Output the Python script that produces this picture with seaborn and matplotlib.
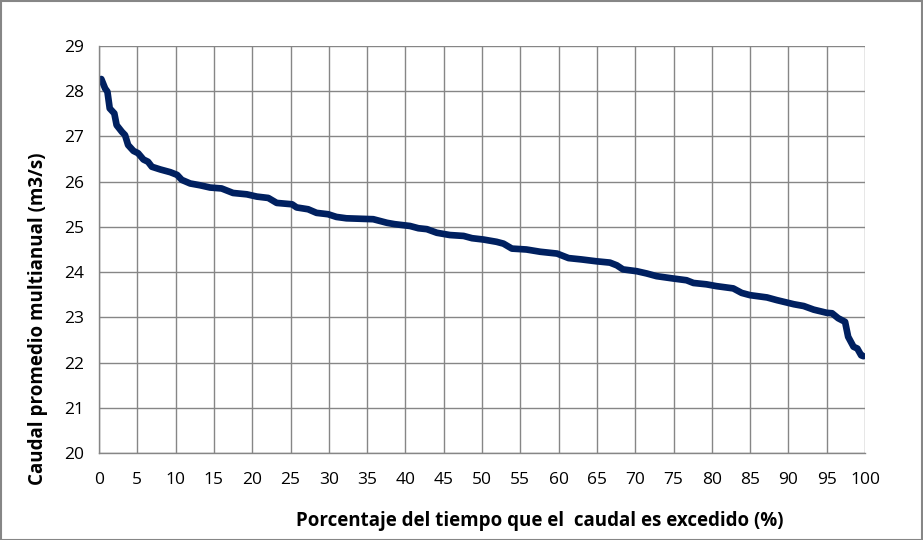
import numpy as np
import pandas as pd
import seaborn as sns
import matplotlib.pyplot as plt
from matplotlib.patches import Rectangle

# Curva de duración de caudales
porcentaje = [0.3, 0.8, 1.1, 1.4, 2.0, 2.3, 3.0, 3.4, 3.8, 4.5, 5.1, 5.8, 6.4, 6.9,
              8.0, 9.3, 10.2, 10.8, 11.9, 13.2, 14.5, 16.0, 17.5, 19.3, 20.6, 22.1,
              23.2, 25.2, 25.8, 27.3, 28.4, 29.9, 31.0, 32.3, 35.8, 37.6, 38.6, 40.6,
              41.7, 42.8, 44.1, 45.8, 47.6, 48.7, 50.2, 51.9, 52.8, 53.9, 55.8, 57.6,
              59.8, 61.3, 63.0, 64.9, 66.7, 67.6, 68.4, 70.2, 71.5, 72.8, 74.9, 76.7,
              77.6, 79.3, 80.6, 82.8, 83.9, 85.0, 87.2, 88.5, 90.7, 92.0, 93.3, 95.0,
              95.7, 96.5, 97.4, 97.8, 98.5, 99.0, 99.5, 99.8]
caudal = [28.27, 28.06, 27.99, 27.62, 27.51, 27.25, 27.10, 27.03, 26.81, 26.68, 26.63,
          26.49, 26.44, 26.33, 26.27, 26.21, 26.15, 26.04, 25.96, 25.92, 25.87, 25.85,
          25.75, 25.72, 25.67, 25.64, 25.53, 25.50, 25.43, 25.39, 25.31, 25.28, 25.22,
          25.19, 25.17, 25.09, 25.06, 25.02, 24.97, 24.95, 24.87, 24.82, 24.80, 24.75,
          24.72, 24.67, 24.63, 24.52, 24.50, 24.45, 24.41, 24.31, 24.28, 24.24, 24.21,
          24.15, 24.06, 24.02, 23.97, 23.91, 23.86, 23.82, 23.76, 23.73, 23.69, 23.64,
          23.54, 23.49, 23.44, 23.38, 23.29, 23.25, 23.17, 23.10, 23.09, 22.98, 22.90,
          22.57, 22.35, 22.31, 22.16, 22.14]

df = pd.DataFrame({"porcentaje": porcentaje, "caudal": caudal})

sns.set_style("white")
plt.rcParams['font.family'] = ['Open Sans', 'DejaVu Sans']
plt.rcParams['text.color'] = 'black'
plt.rcParams['axes.labelcolor'] = 'black'
plt.rcParams['xtick.labelcolor'] = 'black'
plt.rcParams['ytick.labelcolor'] = 'black'

fig = plt.figure(figsize=(9.23, 5.4), dpi=100)
ax = fig.add_axes([99 / 923, 1 - 453 / 540, (865 - 99) / 923, (453 - 46) / 540])

gris = "#868686"
sns.lineplot(data=df, x="porcentaje", y="caudal", ax=ax, color="#002060",
             linewidth=4.8, solid_capstyle="round", solid_joinstyle="round")

ax.set_xlim(0, 100)
ax.set_ylim(20, 29)
ax.set_xticks(np.arange(0, 101, 5))
ax.set_yticks(np.arange(20, 30, 1))
ax.grid(True, color=gris, linewidth=1)
ax.set_axisbelow(True)

for lado in ["top", "right"]:
    ax.spines[lado].set_visible(False)
for lado in ["left", "bottom"]:
    ax.spines[lado].set_color(gris)
    ax.spines[lado].set_linewidth(1)

ax.tick_params(axis="x", direction="out", length=5, color=gris, labelsize=12.5, pad=9)
ax.tick_params(axis="y", direction="out", length=5, color=gris, labelsize=12.5, pad=6)

ax.set_xlabel("Porcentaje del tiempo que el  caudal es excedido (%)", fontsize=13.5,
              fontweight="bold")
ax.set_ylabel("Caudal promedio multianual (m3/s)", fontsize=13.5, fontweight="bold")
ax.xaxis.set_label_coords(0.576, -0.143)
ax.yaxis.set_label_coords(-0.066, 0.33)

# borde del gráfico estilo Excel
fig.patches.append(Rectangle((0.5 / 923, 0.5 / 540), 1 - 1.5 / 923, 1 - 1.5 / 540,
                             transform=fig.transFigure, fill=False,
                             edgecolor=gris, linewidth=1.5))

fig.savefig("out.png", dpi=100)
